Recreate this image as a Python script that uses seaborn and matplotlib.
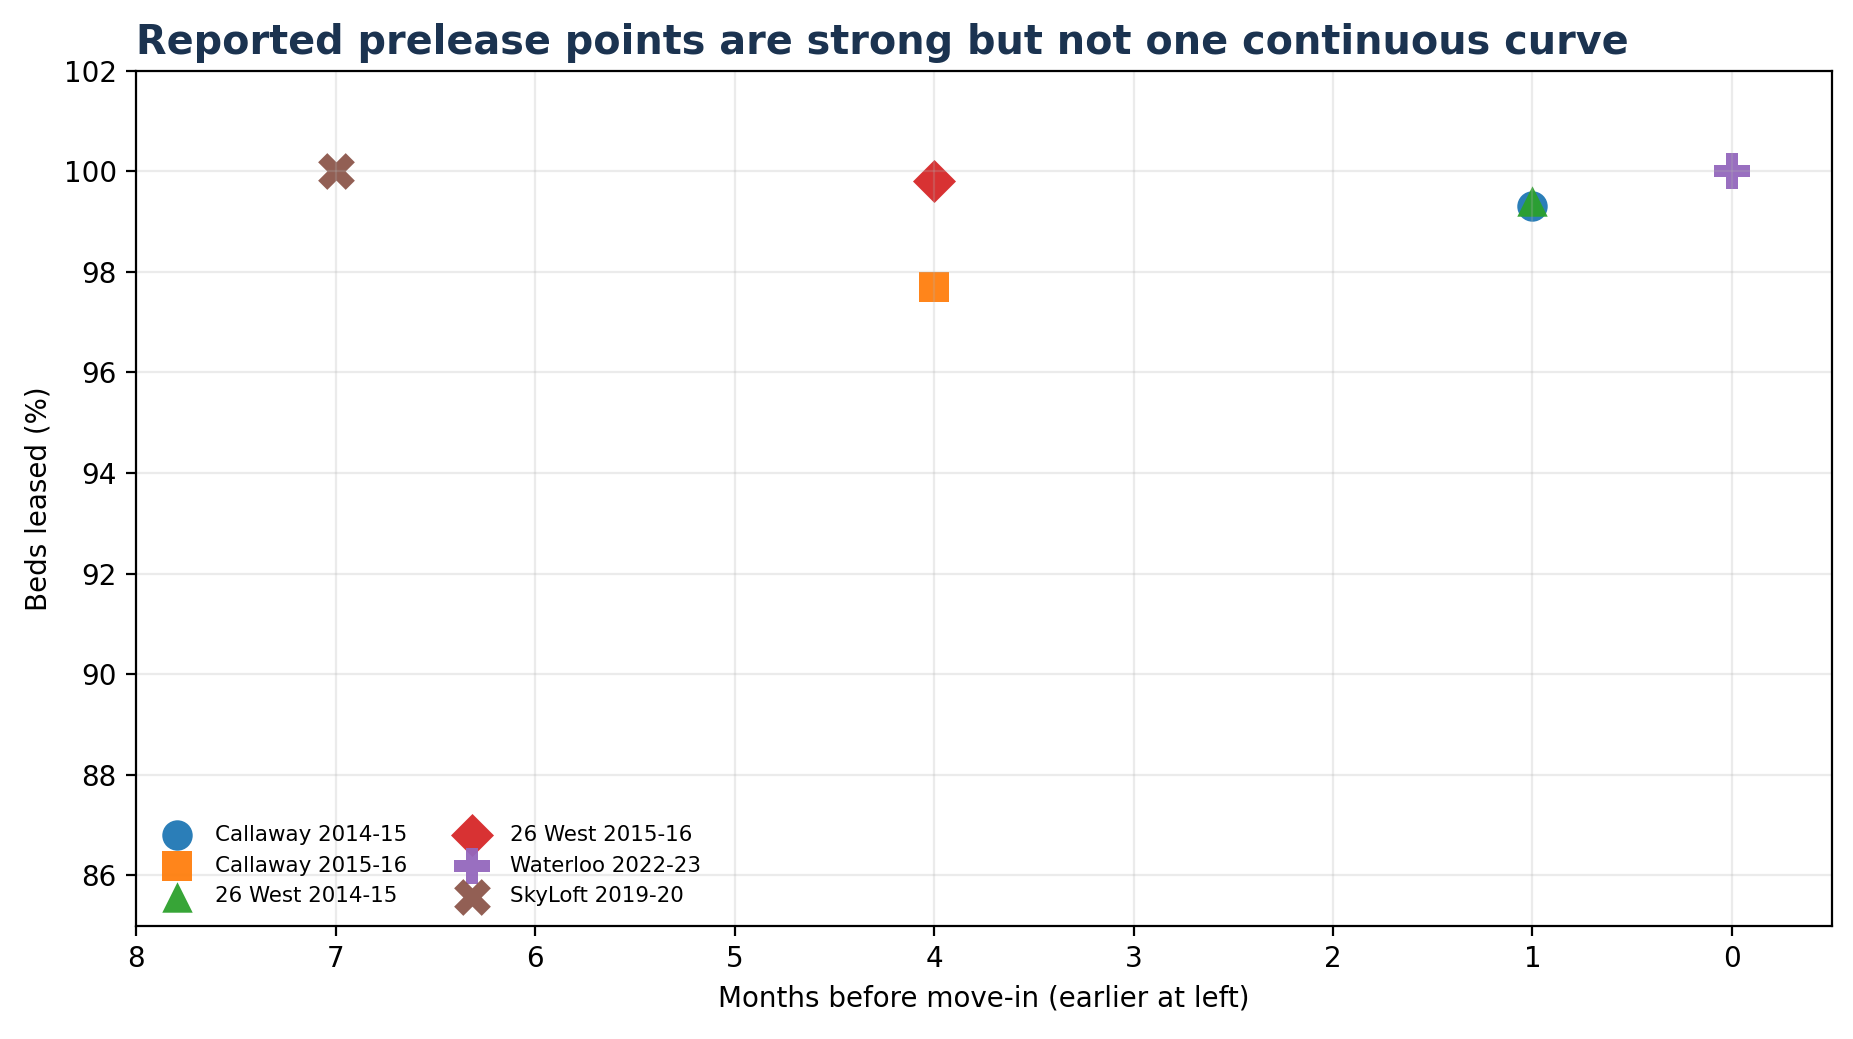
import seaborn as sns
import numpy as np
import matplotlib.pyplot as plt

labels = ['Callaway 2014-15', 'Callaway 2015-16', '26 West 2014-15',
          '26 West 2015-16', 'Waterloo 2022-23', 'SkyLoft 2019-20']
months = [1, 4, 1, 4, 0, 7]
leased = [99.3, 97.7, 99.4, 99.8, 100.0, 100.0]
markers = ['o', 's', '^', 'D', 'P', 'X']
sizes = [120, 120, 120, 120, 175, 175]
colors = sns.color_palette('tab10', 6)

fig, ax = plt.subplots(figsize=(9.265, 5.195), dpi=200)
fig.subplots_adjust(left=0.0735, right=0.9885, top=0.932, bottom=0.109)

for i in range(len(labels)):
    sns.scatterplot(x=[months[i]], y=[leased[i]], marker=markers[i], color=colors[i],
                    s=sizes[i], alpha=0.95, linewidth=0, label=labels[i], ax=ax)

ax.set_xlim(8, -0.5)
ax.set_ylim(85, 102)
ax.set_xticks(np.arange(8, -1, -1))
ax.set_yticks(np.arange(86, 103, 2))
ax.grid(alpha=0.25)
ax.set_xlabel('Months before move-in (earlier at left)')
ax.set_ylabel('Beds leased (%)')
ax.set_title('Reported prelease points are strong but not one continuous curve',
             loc='left', fontsize=14.3, fontweight='bold', color='#1b3350')
ax.legend(loc='lower left', ncol=2, fontsize=7.7, frameon=False)

fig.savefig('out.png', dpi=200)
